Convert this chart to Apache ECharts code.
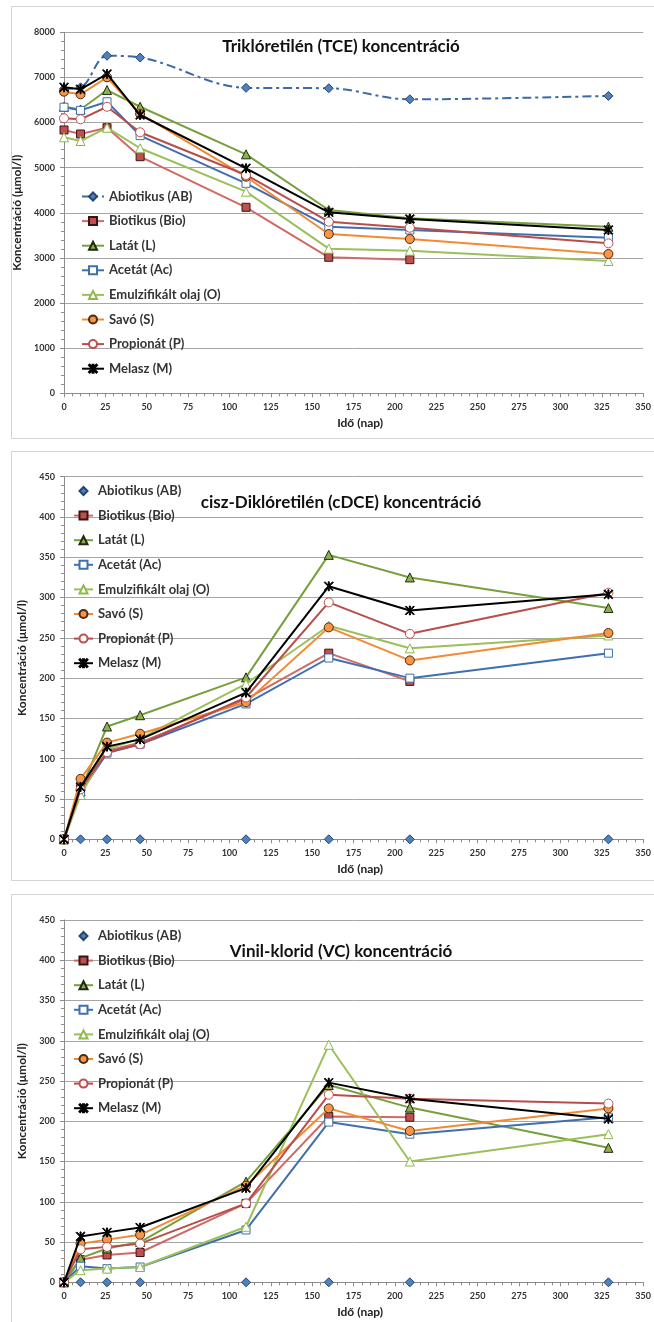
<!DOCTYPE html>
<html><head><meta charset="utf-8">
<script src="https://cdn.jsdelivr.net/npm/echarts@6/dist/echarts.min.js"></script>
<style>html,body{margin:0;padding:0;background:#fff}#c{width:654px;height:1322px}</style>
</head><body><div id="c"></div>
<script>
// ---- data ----
const days = [0, 10, 26, 46, 110, 160, 209, 329];
const seriesNames = ['Abiotikus (AB)', 'Biotikus (Bio)', 'Latát (L)', 'Acetát (Ac)', 'Emulzifikált olaj (O)', 'Savó (S)', 'Propionát (P)', 'Melasz (M)'];
const chartTitles = ['Triklóretilén (TCE) koncentráció', 'cisz-Diklóretilén (cDCE) koncentráció', 'Vinil-klorid (VC) koncentráció'];
const yAxisName = 'Koncentráció (\u03bcmol/l)';
const xAxisName = 'Idő (nap)';

// TCE
const tceAB  = [6750, 6780, 7480, 7440, 6770, 6760, 6515, 6590];
const tceBio = [5835, 5746, 5886, 5243, 4122, 3014, 2961, null];
const tceL   = [6350, 6290, 6720, 6350, 5296, 4062, 3880, 3692];
const tceAc  = [6340, 6270, 6460, 5710, 4653, 3692, 3619, 3449];
const tceO   = [5673, 5591, 5886, 5430, 4468, 3205, 3160, 2932];
const tceS   = [6684, 6626, 7003, 6190, 4800, 3530, 3419, 3087];
const tceP   = [6094, 6072, 6350, 5784, 4838, 3803, 3670, 3324];
const tceM   = [6781, 6737, 7076, 6167, 4986, 4011, 3863, 3619];

// cDCE
const cdceAB  = [0, 0, 0, 0, 0, 0, 0, 0];
const cdceBio = [0, 63, 110, 120, 174, 231, 196, null];
const cdceL   = [0, 60, 140, 154, 201, 353, 325, 287];
const cdceAc  = [0, 58, 107, 118, 168, 225, 200, 231];
const cdceO   = [0, 55, 112, 125, 193, 265, 237, 253];
const cdceS   = [0, 75, 120, 131, 170, 263, 222, 256];
const cdceP   = [0, 62, 108, 118, 176, 294, 255, 306];
const cdceM   = [0, 65, 115, 124, 182, 314, 284, 304];

// VC
const vcAB  = [0, 0, 0, 0, 0, 0, 0, 0];
const vcBio = [0, 28, 34, 37, 98, 206, 205, null];
const vcL   = [0, 30, 42, 50, 125, 245, 217, 167];
const vcAc  = [0, 20, 17, 19, 65, 199, 184, 205];
const vcO   = [0, 15, 17, 19, 69, 295, 150, 184];
const vcS   = [0, 48, 53, 59, 120, 216, 188, 216];
const vcP   = [0, 41, 44, 48, 98, 233, 228, 222];
const vcM   = [0, 57, 62, 68, 117, 248, 228, 203];

const yMax = [8000, 450, 450];
const yInterval = [1000, 50, 50];
const xMax = 350, xInterval = 25;

// ---- styles ----
const STAR = 'path://M4.4 0H5.6V10H4.4Z M0.8 0L5 4.2L9.2 0L10 0.8L5.8 5L10 9.2L9.2 10L5 5.8L0.8 10L0 9.2L4.2 5L0 0.8Z';
const styles = [
  {line:'#3c68a3', symbol:'diamond', size:9, fill:'#4f81bd', border:'#24456e'},
  {line:'#d06a66', symbol:'rect', size:8, fill:'#c0504d', border:'#3b1514'},
  {line:'#77a03c', symbol:'triangle', size:9, fill:'#8fb04e', border:'#1e2a10'},
  {line:'#3f6fae', symbol:'rect', size:8, fill:'#ffffff', border:'#3f6fae'},
  {line:'#9bc05a', symbol:'triangle', size:9, fill:'#ffffff', border:'#8fb84c'},
  {line:'#f28a33', symbol:'circle', size:9, fill:'#f79646', border:'#4a2a10'},
  {line:'#b84d4a', symbol:'circle', size:9, fill:'#ffffff', border:'#c0504d'},
  {line:'#000000', symbol:STAR, size:9, fill:'#000000', border:'#000000'}
];

const chartData = [
  [tceAB, tceBio, tceL, tceAc, tceO, tceS, tceP, tceM],
  [cdceAB, cdceBio, cdceL, cdceAc, cdceO, cdceS, cdceP, cdceM],
  [vcAB, vcBio, vcL, vcAc, vcO, vcS, vcP, vcM]
];

const gridTop = [32.3, 476.7, 920];
const gridH = [361, 362.6, 362.3];
const yNameGap = [28, 24, 24];
const legendPos = [{left:81, top:189.5, w:22}, {left:73, top:484, w:19}, {left:73, top:929, w:19}];
const titleY = [46.7, 503, 951.7];
const frames = [[11, 6, 700, 432], [11, 451, 700, 429], [11, 894, 700, 460]];

const FONT = 'Lato';
const grids = [], xAxes = [], yAxes = [], legends = [], series = [], graphics = [];

for (let g = 0; g < 3; g++) {
  grids.push({left: 64, right: 9, top: gridTop[g], height: gridH[g]});
  xAxes.push({
    type:'value', gridIndex:g, min:0, max:xMax, interval:xInterval,
    axisLine:{show:true, onZero:false, lineStyle:{color:'#8c8c8c', width:1}},
    axisTick:{show:true, length:4, lineStyle:{color:'#8c8c8c'}},
    minorTick:{show:true, splitNumber:5, length:3, lineStyle:{color:'#8c8c8c'}},
    splitLine:{show:false},
    axisLabel:{fontFamily:FONT, fontWeight:'bold', fontSize:9, color:'#333', margin:9},
    name:xAxisName, nameLocation:'middle', nameGap:24,
    nameTextStyle:{fontFamily:FONT, fontWeight:'bold', fontSize:12, color:'#222', padding:[0,0,0,13]}
  });
  yAxes.push({
    type:'value', gridIndex:g, min:0, max:yMax[g], interval:yInterval[g],
    axisLine:{show:true, lineStyle:{color:'#8c8c8c', width:1}},
    axisTick:{show:true, length:4, lineStyle:{color:'#8c8c8c'}},
    minorTick:{show:true, splitNumber:5, length:3, lineStyle:{color:'#8c8c8c'}},
    splitLine:{show:true, lineStyle:{color:'#a6a6a6', width:1}},
    axisLabel:{fontFamily:FONT, fontWeight:'bold', fontSize:9, color:'#333', margin:9,
      formatter: v => String(v)},
    name:yAxisName, nameLocation:'middle', nameGap:yNameGap[g],
    nameTextStyle:{fontFamily:FONT, fontWeight:'bold', fontSize:12, color:'#222'}
  });
  const lnames = [];
  for (let s = 0; s < 8; s++) {
    const st = styles[s];
    const nm = seriesNames[s] + '#' + g;
    lnames.push(nm);
    const vals = chartData[g][s];
    const isAB = s === 0;
    series.push({
      type:'line', name:nm, xAxisIndex:g, yAxisIndex:g,
      data: days.map((d, i) => [d, vals[i]]).filter(p => p[1] != null),
      symbol: st.symbol, symbolSize: st.size, clip:false,
      smooth: (isAB && g === 0) ? 0.35 : false,
      lineStyle: isAB
        ? (g === 0 ? {color:st.line, width:2, type:[9,4,3,4]} : {color:st.line, width:0, opacity:0})
        : {color:st.line, width:2},
      itemStyle:{color:st.fill, borderColor:st.border, borderWidth:1},
      emphasis:{disabled:true},
      z: 3 + s
    });
  }
  legends.push({
    data: lnames, orient:'vertical', left:legendPos[g].left, top:legendPos[g].top,
    padding:0, itemWidth:legendPos[g].w, itemHeight:10, itemGap:10.6,
    formatter: n => n.split('#')[0],
    textStyle:{fontFamily:FONT, fontWeight:'bold', fontSize:13, color:'#333', lineHeight:14},
    selectedMode:false
  });
  graphics.push({type:'rect', z:-10, silent:true,
    shape:{x:frames[g][0]+0.5, y:frames[g][1]+0.5, width:frames[g][2], height:frames[g][3]},
    style:{fill:'none', stroke:'#d4d4d4', lineWidth:1}});
  graphics.push({type:'text', x:341, y:titleY[g], z:100,
    style:{text:chartTitles[g], font:'bold 17px ' + FONT, fill:'#111', textAlign:'center', textVerticalAlign:'middle'}});
}

const chart = echarts.init(document.getElementById('c'), null, {renderer:'canvas'});
chart.setOption({
  animation:false,
  backgroundColor:'#ffffff',
  grid:grids, xAxis:xAxes, yAxis:yAxes, legend:legends, series:series, graphic:graphics
});
</script></body></html>
